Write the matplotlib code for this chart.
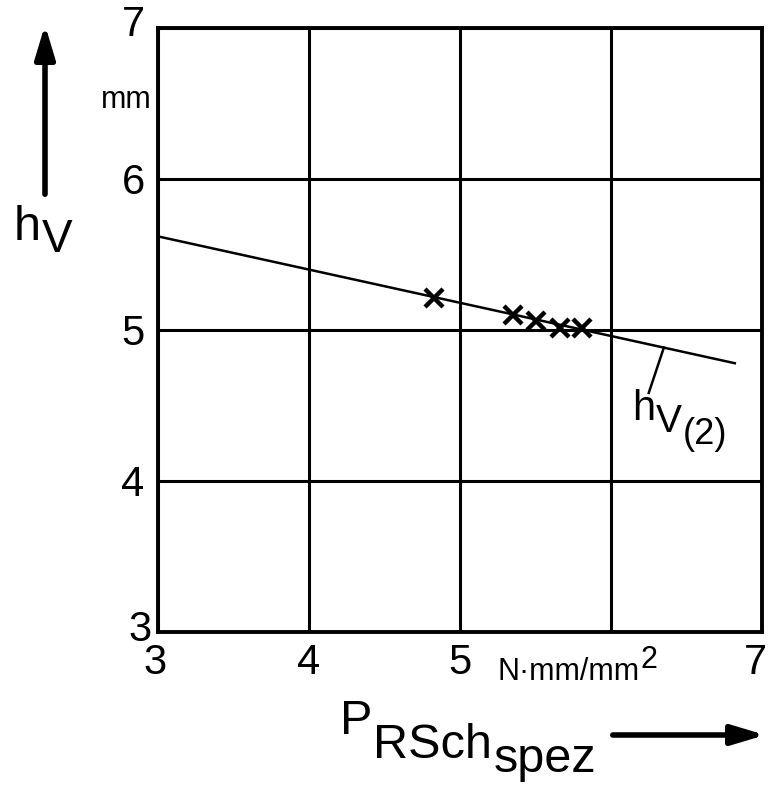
import numpy as np
import matplotlib
matplotlib.use('Agg')
import matplotlib.pyplot as plt
from matplotlib.patches import FancyArrowPatch

plt.rcParams['font.family'] = ['Liberation Sans', 'DejaVu Sans']

# measured points (x) and fitted line h_V(2)
p_spez = [4.83, 5.35, 5.50, 5.66, 5.81]
h_v = [5.21, 5.10, 5.06, 5.01, 5.01]
line_x = [3.0, 6.82]
line_y = [5.62, 4.78]

x_ticks = [3, 4, 5, 6, 7]
x_labels = ['3', '4', '5', '', '7']
y_ticks = [3, 4, 5, 6, 7]
y_labels = ['3', '4', '5', '6', '7']

W, H = 771, 785
fig = plt.figure(figsize=(W / 100, H / 100), dpi=100)
ax = fig.add_axes([158 / W, 1 - 632 / H, (762 - 158) / W, (632 - 28) / H])
renderer = fig.canvas.get_renderer()


def px(x, y):
    return x / W, 1 - y / H


def chain(x, y, parts):
    # parts: (text, baseline offset in px, fontsize); drawn left to right
    for txt, dy, size in parts:
        t = fig.text(*px(x, y + dy), txt, fontsize=size, ha='left', va='baseline')
        x = t.get_window_extent(renderer).x1 + 1


ax.set_xlim(3, 7)
ax.set_ylim(3, 7)
ax.set_xticks(x_ticks)
ax.set_yticks(y_ticks)
ax.set_xticklabels([])
ax.set_yticklabels([])
ax.tick_params(length=0)
ax.grid(True, color='black', linewidth=2.2)
for s in ax.spines.values():
    s.set_linewidth(2.8)

ax.plot(line_x, line_y, color='black', linewidth=1.8)
ax.plot(p_spez, h_v, 'x', color='black', markersize=13, markeredgewidth=3.2)

# leader to the line label
lx = 6.35
ly = np.interp(lx, line_x, line_y)
ax.plot([lx, lx - 0.1], [ly, ly - 0.3], color='black', linewidth=1.8)
chain(632, 420, [('h', 0, 30), ('V', 12, 28), ('(2)', 24, 26)])

fs = 30
for v, lab in zip(x_ticks, x_labels):
    if lab:
        xp = 158 + (v - 3) * 151
        if v == 3:
            xp = 155
        if v == 7:
            xp = 755
        fig.text(*px(xp, 674), lab, fontsize=fs, ha='center', va='baseline')
for v, lab in zip(y_ticks, y_labels):
    yp = 632 - (v - 3) * 151 + 15
    if v == 7:
        yp = 36
    if v == 3:
        yp = 641
    xp = 140 if v == 3 else 133
    fig.text(*px(xp, yp), lab, fontsize=fs, ha='center', va='baseline')

fig.text(*px(126, 108), 'mm', fontsize=22, ha='center', va='baseline')
chain(497, 680, [('N·mm/mm', 0, 22), ('2', -12, 22)])

# axis titles
chain(14, 240, [('h', 0, 35), ('V', 12, 33)])
chain(340, 734, [('P', 0, 35), ('RSch', 24, 35), ('spez', 38, 35)])

# arrows
fig.add_artist(FancyArrowPatch(
    px(45, 197), px(45, 22), transform=fig.transFigure,
    arrowstyle='-|>,head_length=1.0,head_width=0.3', color='black',
    linewidth=4, mutation_scale=20))
fig.add_artist(FancyArrowPatch(
    px(610, 735), px(768, 735), transform=fig.transFigure,
    arrowstyle='-|>,head_length=1.0,head_width=0.3', color='black',
    linewidth=4, mutation_scale=20))

fig.savefig('out.png', dpi=100)
